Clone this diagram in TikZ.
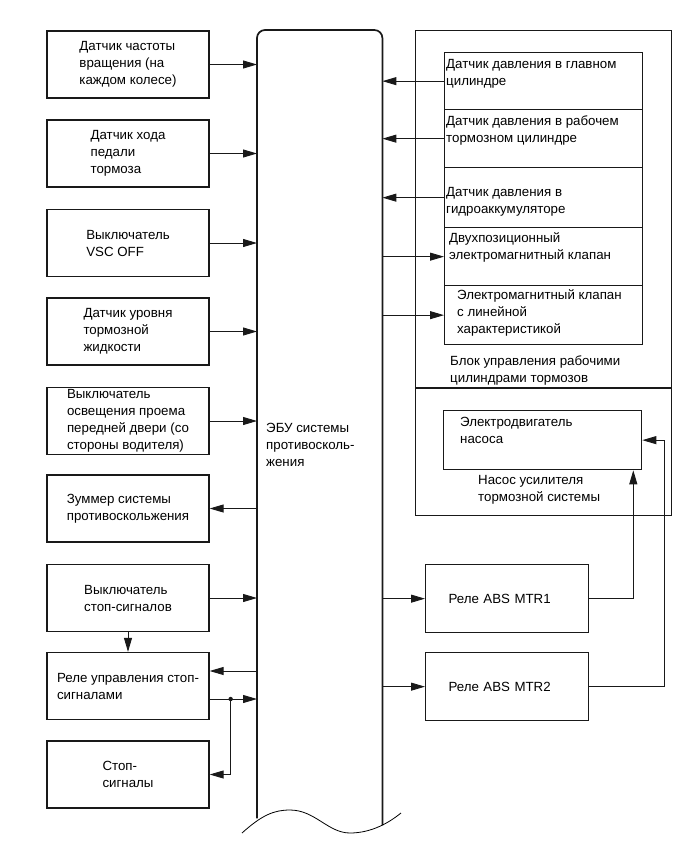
\documentclass[tikz,border=0pt]{standalone}
\usepackage{fontspec}
\setmainfont{Liberation Sans}
\usetikzlibrary{arrows.meta}

\tikzset{
  lbl/.style={font=\fontsize{13.3}{17}\selectfont, align=left, inner sep=0pt},
  blk/.style={lbl, draw=black!90, line width=1.3pt, minimum width=162, minimum height=67},
  cell/.style={draw=black!90, line width=1.3pt, minimum width=198, inner sep=0pt, anchor=north west},
  relay/.style={blk, minimum width=163, minimum height=68, text width=117, anchor=north west},
  conn/.style={-{Triangle[length=14pt,width=8pt]}, line width=.9pt, draw=black!90},
  wire/.style={line width=.9pt, draw=black!90}
}

\begin{document}
\begin{tikzpicture}[x=1pt,y=-1pt]
  \useasboundingbox (0,0) rectangle (690,855);

  % inputs and outputs on the left
  \node[blk] (b1) at (128,64.5) {Датчик частоты\\вращения (на\\каждом колесе)};
  \node[blk] (b2) at (128,153.5) {Датчик хода\\педали\\тормоза};
  \node[blk] (b3) at (128,243) {Выключатель\\VSC OFF};
  \node[blk] (b4) at (128,331.5) {Датчик уровня\\тормозной\\жидкости};
  \node[blk] (b5) at (128,421) {Выключатель\\освещения проема\\передней двери (со\\стороны водителя)};
  \node[blk] (b6) at (128,508.5) {Зуммер системы\\противоскольжения};
  \node[blk] (b7) at (128,598) {Выключатель\\стоп-сигналов};
  \node[blk] (b8) at (128,686) {Реле управления стоп-\\сигналами};
  \node[blk] (b9) at (128,774.5) {Стоп-\\сигналы};

  % ECU
  \node[minimum width=125, minimum height=788, inner sep=0pt, anchor=north west] (ecu) at (257,30) {};
  \draw[line width=1.7pt, draw=black!90, rounded corners=8]
    (ecu.south west) -- (ecu.north west) -- (ecu.north east) -- ([yshift=-7]ecu.south east);
  \draw[line width=.8pt] (242,833) .. controls (262,815) and (274,810) .. (290,810)
    .. controls (315,810) and (328,833) .. (350,833)
    .. controls (372,833) and (390,822) .. (401,813);
  \node[lbl, anchor=west] (ecutxt) at (266,445) {ЭБУ системы\\противосколь-\\жения};

  % actuator block
  \node[draw=black!90, line width=1.3pt, minimum width=256, minimum height=485, anchor=north west] (unit) at (415,30) {};
  \draw[wire, line width=1.3pt] (unit.west |- 0,388) -- (unit.east |- 0,388);
  \node[cell, minimum height=57] (s1) at (444,52) {};
  \node[cell, minimum height=58] (s2) at (444,109) {};
  \node[cell, minimum height=60] (s3) at (444,167) {};
  \node[cell, minimum height=58] (s4) at (444,227) {};
  \node[cell, minimum height=59] (s5) at (444,285) {};
  \node[lbl, anchor=north west] (s1t) at ([shift={(2,7)}]s1.north west) {Датчик давления в главном\\цилиндре};
  \node[lbl, anchor=north west] (s2t) at ([shift={(2,7)}]s2.north west) {Датчик давления в рабочем\\тормозном цилиндре};
  \node[lbl, anchor=north west] (s3t) at ([shift={(2,20)}]s3.north west) {Датчик давления в\\гидроаккумуляторе};
  \node[lbl, anchor=north west] (s4t) at ([shift={(5,5)}]s4.north west) {Двухпозиционный\\электромагнитный клапан};
  \node[lbl, anchor=north west] (s5t) at ([shift={(13,4)}]s5.north west) {Электромагнитный клапан\\с линейной\\характеристикой};
  \node[lbl, anchor=north west] (unitt) at ([shift={(6,10)}]s5.south west) {Блок управления рабочими\\цилиндрами тормозов};

  \node[cell, minimum height=59] (pm) at (443,410) {};
  \node[lbl, anchor=north west] (pmt) at ([shift={(17,7)}]pm.north west) {Электродвигатель\\насоса};
  \node[lbl, anchor=north west] (pumpt) at ([shift={(35,5)}]pm.south west) {Насос усилителя\\тормозной системы};

  % relays
  \node[relay] (r1) at (425,564) {Реле ABS MTR1};
  \node[relay] (r2) at (425,652) {Реле ABS MTR2};

  % connectors, left side
  \draw[conn] (b1.east) -- (b1.east -| ecu.west);
  \draw[conn] (b2.east) -- (b2.east -| ecu.west);
  \draw[conn] (b3.east) -- (b3.east -| ecu.west);
  \draw[conn] (b4.east) -- (b4.east -| ecu.west);
  \draw[conn] (b5.east) -- (b5.east -| ecu.west);
  \draw[conn] (b6.east -| ecu.west) -- (b6.east);
  \draw[conn] (b7.east) -- (b7.east -| ecu.west);
  \draw[conn] (b7.south) -- (b8.north);
  \coordinate (b8in) at ([yshift=15]b8.east);
  \coordinate (b8out) at ([yshift=-13]b8.east);
  \draw[conn] (b8in -| ecu.west) -- (b8in);
  \draw[conn] (b8out) -- (b8out -| ecu.west);
  \coordinate (jn) at ([xshift=21]b8out);
  \fill[black!90] (jn) circle (2.2);
  \draw[conn] (jn) |- (b9.east);

  % connectors, right side
  \draw[conn] (s1.west) -- (s1.west -| ecu.east);
  \draw[conn] (s2.west) -- (s2.west -| ecu.east);
  \draw[conn] (s3.west) -- (s3.west -| ecu.east);
  \draw[conn] (s4.west -| ecu.east) -- (s4.west);
  \draw[conn] (s5.west -| ecu.east) -- (s5.west);
  \draw[conn] (r1.west -| ecu.east) -- (r1.west);
  \draw[conn] (r2.west -| ecu.east) -- (r2.west);
  \draw[conn] (r1.east) -| ([xshift=-9]pm.south east);
  \draw[conn] (r2.east) -- ++(75,0) |- (pm.east);
\end{tikzpicture}
\end{document}
